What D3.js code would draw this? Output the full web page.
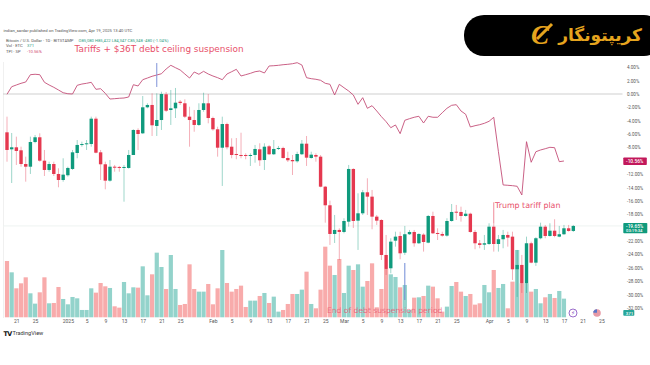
<!DOCTYPE html>
<html>
<head>
<meta charset="utf-8">
<script src="https://cdn.jsdelivr.net/npm/d3@7"></script>
<style>
  html, body { margin: 0; padding: 0; background: #fff; }
  svg { display: block; }
  .axis text { font-family: Roboto, sans-serif; fill: #555; }
</style>
</head>
<body>
<div id="chart"></div>
<script>
// all values, percent change on the log-ish price scale
const firstDay = Date.UTC(2024, 11, 19);

const opens = [-5.73,-8.27,-7.97,-8.42,-10.47,-10.87,-7.18,-6.47,-9.97,-11.36,-10.47,-11.96,-12.86,-12.15,-11.21,-8.82,-7.62,-7.52,-7.48,-3.69,
  -8.72,-10.51,-12.96,-10.87,-10.91,-11.02,-11.06,-9.12,-5.38,-5.88,-1.99,-1.64,-4.78,-3.89,-0.04,-2.39,-2.14,-1.15,-1.39,-3.39,
  -3.89,-4.63,-2.39,-1.39,-3.59,-5.28,-8.03,-4.49,-7.88,-8.97,-9.12,-9.12,-9.22,-9.12,-8.27,-9.87,-7.82,-9.01,-8.22,-8.07,
  -9.57,-9.87,-10.06,-9.01,-7.43,-9.57,-9.12,-9.37,-13.86,-16.64,-20.93,-20.33,-20.63,-19.09,-11.21,-18.94,-17.84,-14.70,-15.35,-18.34,
  -18.84,-24.07,-26.06,-21.93,-21.23,-23.73,-20.97,-20.63,-22.32,-21.03,-22.23,-18.24,-20.78,-20.93,-21.18,-18.99,-17.60,-17.64,-18.24,-17.90,
  -20.63,-22.32,-22.53,-22.43,-19.84,-22.43,-21.72,-21.08,-21.33,-26.21,-25.56,-28.30,-22.32,-25.22,-21.57,-19.84,-21.23,-20.44,-21.33,-20.97,
  -20.08,-20.48];

const closes = [-8.37,-7.97,-8.52,-10.47,-10.87,-7.18,-6.47,-9.97,-11.36,-10.47,-11.96,-12.86,-12.06,-11.06,-8.72,-7.62,-7.48,-7.37,-3.69,-8.78,
  -10.51,-12.96,-10.87,-11.02,-11.02,-10.91,-9.12,-5.38,-5.98,-1.99,-1.64,-4.68,-3.89,0,-2.50,-2.14,-1.30,-1.35,-3.39,-3.89,
  -4.63,-2.39,-1.39,-3.59,-5.28,-8.03,-4.49,-7.97,-9.12,-9.07,-9.22,-9.22,-9.12,-8.22,-9.91,-7.88,-9.01,-8.22,-8.07,-9.57,
  -9.91,-10.06,-8.97,-7.43,-9.52,-9.07,-9.37,-13.86,-16.64,-20.93,-20.33,-20.63,-18.99,-11.21,-18.99,-17.84,-14.70,-15.35,-18.34,-18.94,
  -24.07,-26.16,-22.08,-21.33,-23.82,-20.97,-20.63,-22.32,-20.93,-22.13,-18.24,-20.83,-20.93,-21.18,-18.99,-17.64,-17.69,-18.24,-17.90,-20.63,
  -22.32,-22.57,-22.32,-19.84,-22.43,-21.72,-21.08,-21.48,-26.21,-25.56,-28.30,-22.32,-25.22,-21.57,-19.84,-21.23,-20.44,-21.23,-20.97,-20.08,
  -20.48,-19.73];

const highs = [-3.39,-5.83,-6.38,-7.88,-9.37,-6.38,-6.13,-5.88,-8.37,-10.12,-10.12,-11.11,-9.61,-10.87,-8.37,-6.88,-7.13,-6.88,-3.39,-3.39,
  -8.37,-10.12,-9.87,-10.61,-10.76,-10.61,-8.37,-5.28,-5.13,-0.30,-1.39,0.10,0.10,0.34,0.30,0.60,0.90,-0.90,-0.79,-1.90,
  -2.39,-1.39,0.19,0,-3.39,-4.89,-3.39,-4.29,-6.62,-6.58,-5.79,-8.87,-8.87,-7.62,-7.37,-7.37,-7.62,-6.88,-7.77,-7.88,
  -8.63,-9.12,-8.63,-6.88,-6.28,-8.63,-8.87,-9.12,-13.75,-15.95,-18.09,-20.08,-18.58,-10.61,-11.11,-14.85,-14.35,-12.60,-14.35,-18.09,
  -18.73,-21.08,-21.57,-20.59,-20.59,-19.73,-20.33,-20.33,-20.83,-20.83,-18.09,-17.60,-20.08,-20.59,-18.58,-16.45,-16.59,-16.85,-17.34,-17.75,
  -20.33,-21.83,-21.08,-19.33,-19.29,-21.08,-20.33,-20.59,-20.59,-23.32,-24.07,-21.33,-22.08,-21.42,-19.24,-19.58,-19.33,-18.73,-19.73,-19.58,
  -19.58,-19.58];

const lows = [-10.12,-13.31,-10.61,-10.87,-13.11,-11.96,-7.37,-10.12,-12.26,-11.62,-12.26,-13.95,-13.11,-12.36,-11.36,-9.61,-7.88,-8.37,-7.88,-8.87,
  -12.86,-14.25,-13.11,-11.62,-11.62,-16.10,-11.17,-9.12,-8.37,-5.98,-2.14,-6.28,-6.28,-5.38,-2.69,-4.63,-3.59,-1.64,-3.59,-7.88,
  -5.64,-4.78,-2.65,-4.38,-5.49,-9.37,-13.75,-8.27,-9.61,-9.76,-9.61,-9.76,-10.76,-10.27,-10.76,-11.36,-9.12,-9.12,-8.37,-9.67,
  -10.17,-12.11,-10.27,-9.12,-10.76,-9.67,-10.12,-13.95,-19.24,-22.57,-22.28,-24.82,-20.83,-19.84,-20.03,-23.32,-18.09,-18.09,-20.23,-19.58,
  -24.82,-27.06,-26.81,-22.83,-24.71,-24.07,-21.08,-22.83,-22.43,-23.57,-22.32,-20.93,-21.83,-21.33,-21.33,-19.09,-18.84,-19.09,-18.34,-20.73,
  -23.22,-23.07,-23.32,-22.57,-23.57,-23.57,-23.07,-22.83,-27.81,-30.35,-29.75,-29.75,-25.31,-25.71,-21.72,-21.57,-21.33,-21.42,-21.42,-21.08,
  -20.59,-20.63];

// volume in arbitrary units, no scale is printed for it
const volumes = [169,135,87,102,120,72,41,75,120,42,43,91,55,39,61,57,22,22,87,74,
  103,93,88,33,29,106,72,90,89,153,66,129,194,151,85,187,85,37,40,159,
  85,77,77,100,39,87,202,103,77,85,95,31,50,50,64,73,43,62,17,22,
  40,70,70,83,137,40,27,83,212,155,127,175,73,155,142,159,92,109,162,30,
  85,145,129,121,90,97,22,59,60,64,95,92,57,17,32,94,106,77,64,70,
  38,42,97,75,142,88,100,27,107,202,102,102,77,85,42,60,70,58,79,56,
  0,0];

// comparison line, stops two days before the candles
const lineValues = [-0.04,1.09,1.35,1.60,1.79,2.89,2.95,2.89,1.75,1.35,1.00,0.60,0.19,0.04,0,1.30,1.49,1.60,1.75,0.70,
  0.79,0.10,-0.75,-0.70,-0.64,-0.60,-0.45,1.39,1.20,2.14,2.39,2.65,2.84,3.03,3.74,4.29,3.93,3.59,2.99,2.39,
  3.29,2.95,3.39,2.99,2.69,2.44,2.14,2.99,3.33,3.69,2.69,2.89,3.09,3.33,3.44,3.14,4.19,4.23,4.29,4.38,
  4.44,4.53,4.68,4.34,2.44,2.29,2.20,2.05,1.60,1.45,-0.15,1.45,0.94,0.45,-0.15,-1.54,-0.55,-2.14,-1.75,-2.54,
  -3.39,-4.14,-5.04,-4.63,-5.93,-3.93,-3.69,-3.48,-3.33,-4.34,-3.33,-3.48,-3.48,-2.80,-2.14,-1.69,-1.60,-2.54,-3.03,-4.93,
  -4.74,-4.59,-4.38,-4.08,-3.48,-8.63,-13.60,-13.65,-13.71,-13.80,-15.10,-7.13,-10.21,-8.63,-8.37,-8.18,-7.97,-8.03,-10.12,-10.02];

const yTicks = [4,2,0,-2,-4,-6,-8,-12,-14,-16,-18,-22,-24,-26,-28,-30,-32];

const xTicks = [
  [2024,11,21,"21"],[2024,11,25,"25"],[2025,0,1,"2025"],[2025,0,5,"5"],[2025,0,9,"9"],[2025,0,13,"13"],[2025,0,17,"17"],[2025,0,21,"21"],[2025,0,25,"25"],
  [2025,1,1,"Feb"],[2025,1,5,"5"],[2025,1,9,"9"],[2025,1,13,"13"],[2025,1,17,"17"],[2025,1,21,"21"],[2025,1,25,"25"],
  [2025,2,1,"Mar"],[2025,2,5,"5"],[2025,2,9,"9"],[2025,2,13,"13"],[2025,2,17,"17"],[2025,2,21,"21"],[2025,2,25,"25"],
  [2025,3,1,"Apr"],[2025,3,5,"5"],[2025,3,9,"9"],[2025,3,13,"13"],[2025,3,17,"17"],[2025,3,21,"21"],[2025,3,25,"25"]
];

// vertical drawing-tool lines: [candle index, top %, bottom %, colour]
const markers = [
  [32, 4.63, 1.05, "#7f93d8"],
  [85, -25.27, -30.8, "#6f8bd6"],
  [104, -16.2, -19.3, "#ef8a98"]
];

const W = 650, H = 365;
const UP = "#0f9a7d", DOWN = "#e5384f", UP_VOL = "#93d3cb", DOWN_VOL = "#f8abab", LINE = "#c44f78", NOTE = "#e8506a";

const dayOf = i => new Date(firstDay + i * 864e5);

const x = d3.scaleUtc()
  .domain([dayOf(0), dayOf(127)])
  .range([7, 601.4]);
const y = d3.scaleLinear().domain([0, -32]).range([94, 308]);
const yVol = d3.scaleLinear().domain([0, 217]).range([317.3, 245]);

const svg = d3.select("#chart").append("svg")
  .attr("width", W).attr("height", H).attr("viewBox", `0 0 ${W} ${H}`);

svg.append("rect").attr("width", W).attr("height", H).attr("fill", "#fff");

// ── frame lines ───────────────────────────────────────────────────
svg.append("line").attr("x1", 3.5).attr("x2", 3.5).attr("y1", 62).attr("y2", 318).attr("stroke", "#f0f0f0");
svg.append("line").attr("x1", 3).attr("x2", 622.5).attr("y1", y(0)).attr("y2", y(0)).attr("stroke", "#cfcfcf");
svg.append("line").attr("x1", 3).attr("x2", 622.5)
  .attr("y1", y(closes[closes.length - 1])).attr("y2", y(closes[closes.length - 1]))
  .attr("stroke", "#eef3f1");

// ── volume ────────────────────────────────────────────────────────
svg.append("g").selectAll("rect")
  .data(volumes)
  .join("rect")
  .attr("x", (d, i) => x(dayOf(i)) - 2.1)
  .attr("width", 4.2)
  .attr("y", d => yVol(d))
  .attr("height", d => yVol(0) - yVol(d))
  .attr("fill", (d, i) => closes[i] >= opens[i] ? UP_VOL : DOWN_VOL);

// ── comparison line ───────────────────────────────────────────────
const line = d3.line().x((d, i) => x(dayOf(i))).y(d => y(d));
svg.append("path").attr("d", line(lineValues))
  .attr("fill", "none").attr("stroke", LINE).attr("stroke-width", 0.9);

// ── drawing-tool lines ────────────────────────────────────────────
svg.append("g").selectAll("line")
  .data(markers)
  .join("line")
  .attr("x1", d => x(dayOf(d[0]))).attr("x2", d => x(dayOf(d[0])))
  .attr("y1", d => y(d[1])).attr("y2", d => y(d[2]))
  .attr("stroke", d => d[3]).attr("stroke-width", 1);

// ── candles ───────────────────────────────────────────────────────
const candles = svg.append("g").selectAll("g")
  .data(opens.map((o, i) => i))
  .join("g");

candles.append("line")
  .attr("x1", i => x(dayOf(i))).attr("x2", i => x(dayOf(i)))
  .attr("y1", i => y(highs[i])).attr("y2", i => y(lows[i]))
  .attr("stroke", i => closes[i] >= opens[i] ? UP : DOWN)
  .attr("stroke-opacity", 0.45)
  .attr("stroke-width", 0.9);

candles.append("rect")
  .attr("x", i => x(dayOf(i)) - 1.7)
  .attr("width", 3.4)
  .attr("y", i => y(Math.max(opens[i], closes[i])))
  .attr("height", i => Math.max(1, y(Math.min(opens[i], closes[i])) - y(Math.max(opens[i], closes[i]))))
  .attr("fill", i => closes[i] >= opens[i] ? UP : DOWN);

// ── axes ──────────────────────────────────────────────────────────
const yAxis = d3.axisRight(y)
  .tickValues(yTicks)
  .tickSize(0)
  .tickPadding(0)
  .tickFormat(d => `${d.toFixed(2)}%`);
svg.append("g").attr("class", "axis").attr("transform", "translate(627,0)")
  .call(yAxis)
  .call(g => g.select(".domain").remove())
  .selectAll("text").style("font-size", "4.6px");

const xAxis = d3.axisBottom(x)
  .tickValues(xTicks.map(t => new Date(Date.UTC(t[0], t[1], t[2]))))
  .tickSize(0)
  .tickPadding(0)
  .tickFormat((d, i) => xTicks[i][3]);
svg.append("g").attr("class", "axis").attr("transform", "translate(0,319.5)")
  .call(xAxis)
  .call(g => g.select(".domain").remove())
  .selectAll("text").style("font-size", "5px");

// ── last value tags ───────────────────────────────────────────────
const tag = (top, h, w, fill) => svg.append("rect")
  .attr("x", 623.3).attr("y", top).attr("width", w).attr("height", h).attr("rx", 0.8).attr("fill", fill);
const tagText = (tx, ty, s, size) => svg.append("text")
  .attr("x", tx).attr("y", ty).attr("fill", "#fff")
  .attr("font-family", "Roboto, sans-serif").attr("font-size", size).attr("font-weight", 500).text(s);

tag(157.5, 7.5, 23.5, "#c2185b");
tagText(626, 162.9, "-10.56%", 4.8);
tag(223, 10.3, 24, "#0f9a7d");
tagText(626, 227.6, "-19.65%", 4.8);
tagText(626, 232.2, "03:19:34", 4.2);
tag(310, 5.8, 11, "#26a69a");
tagText(625.7, 314.7, "371", 4.4);

// ── header text ───────────────────────────────────────────────────
const small = (tx, ty, s, fill, size) => svg.append("text")
  .attr("x", tx).attr("y", ty).attr("fill", fill)
  .attr("font-family", "Roboto, sans-serif").attr("font-size", size || 4.2).text(s);

small(3.5, 31.5, "indian_sardar published on TradingView.com, Apr 19, 2025 13:40 UTC", "#555");
small(6, 41.5, "Bitcoin / U.S. Dollar · 1D · BITSTAMP", "#555");
small(78.5, 41.5, "O85,080 H85,422 L84,347 C85,348 -480 (-1.04%)", "#2f9e84");
small(6, 47.3, "Vol · ETC", "#555");
small(27, 47.3, "371", "#2f9e84");
small(6, 53.2, "TPI · SP", "#555");
small(27, 53.2, "-10.56%", "#d0476e");

// ── annotations ───────────────────────────────────────────────────
const note = (tx, ty, s, size, opacity) => svg.append("text")
  .attr("x", tx).attr("y", ty).attr("fill", NOTE).attr("fill-opacity", opacity || 1)
  .attr("font-family", "'DejaVu Sans', sans-serif").attr("font-size", size).text(s);

note(74.5, 52.3, "Tariffs + $36T debt ceiling suspension", 8.9);
note(495, 208, "Trump tariff plan", 7.9);
note(327, 313, "End of debt suspension period", 7.6, 0.75);

// ── event icons under the last candles ────────────────────────────
svg.append("circle").attr("cx", 573).attr("cy", 313).attr("r", 4).attr("fill", "#fff").attr("stroke", "#8e5cc4").attr("stroke-width", 0.9);
svg.append("text").attr("x", 573).attr("y", 315.2).attr("text-anchor", "middle")
  .attr("font-family", "'DejaVu Sans', sans-serif").attr("font-size", 6).attr("fill", "#8e5cc4").text("⚡");
svg.append("circle").attr("cx", 597).attr("cy", 313).attr("r", 3.8).attr("fill", "#e79aa6");
svg.append("path").attr("d", "M593.4 311.5a3.8 3.8 0 0 1 3.6 -2.3v3.6h-3.6z").attr("fill", "#5a76c8");

// ── footer mark ───────────────────────────────────────────────────
svg.append("text").attr("x", 3.5).attr("y", 335.5)
  .attr("font-family", "'DejaVu Sans', sans-serif").attr("font-weight", 700).attr("font-size", 6.4)
  .attr("letter-spacing", -0.7).attr("fill", "#111").text("TV");
small(12.5, 335.3, "TradingView", "#333", 5.6);

// ── logo pill ─────────────────────────────────────────────────────
svg.append("rect").attr("x", 464).attr("y", 15).attr("width", 200).attr("height", 41).attr("rx", 20).attr("fill", "#000");
svg.append("text").attr("x", 531).attr("y", 44)
  .attr("font-family", "'Liberation Serif', serif").attr("font-style", "italic").attr("font-weight", 700)
  .attr("font-size", 27).attr("fill", "#e6a41e").text("C");
svg.append("line").attr("x1", 537).attr("y1", 39).attr("x2", 552).attr("y2", 24)
  .attr("stroke", "#e6a41e").attr("stroke-width", 3);
svg.append("text").attr("x", 642).attr("y", 41).attr("text-anchor", "start").attr("direction", "rtl")
  .attr("font-family", "'DejaVu Sans', sans-serif").attr("font-weight", 700)
  .attr("font-size", 17).attr("fill", "#e6a41e").text("کریپتونگار");
</script>
</body>
</html>
